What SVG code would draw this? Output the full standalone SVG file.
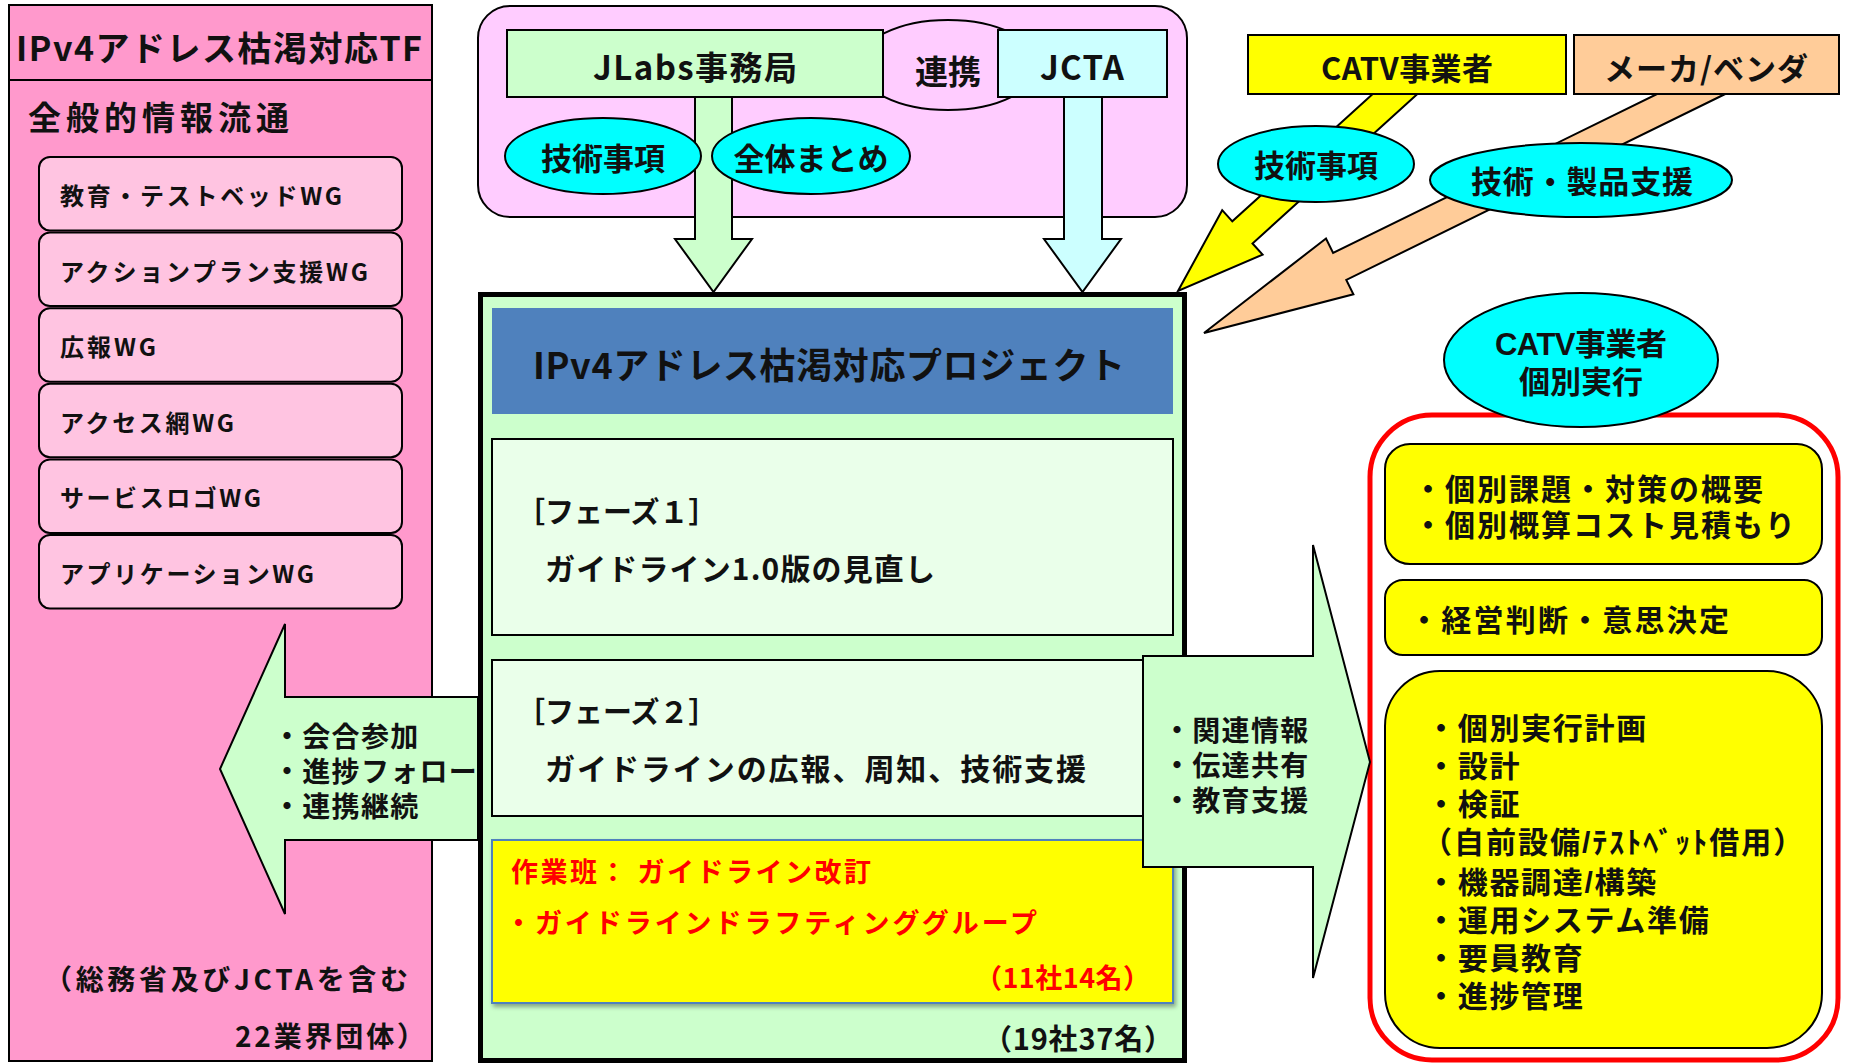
<svg xmlns="http://www.w3.org/2000/svg" width="1849" height="1064" viewBox="0 0 1849 1064">
<defs>
<style>
.t{font-family:"Noto Sans CJK JP","Noto Sans",sans-serif;font-weight:700;fill:#111}
.m{font-family:"Liberation Sans","Noto Sans CJK JP",sans-serif}
.c{text-anchor:middle}
.s{stroke:#000;stroke-width:2}
.r{fill:#FF0000}
.wg{fill:#FFC4E1;stroke:#000;stroke-width:2}
.el{fill:#00FFFF;stroke:#000;stroke-width:2}
</style>
<filter id="sh" x="-5%" y="-5%" width="110%" height="120%">
<feDropShadow dx="2" dy="3" stdDeviation="2" flood-color="#000" flood-opacity="0.35"/>
</filter>
</defs>
<rect width="1849" height="1064" fill="#fff"/>

<g id="tf">
<rect x="9" y="5" width="423" height="1056" fill="#FF99CC" class="s"/>
<line x1="9" y1="80" x2="432" y2="80" class="s"/>
<text class="t" x="16" y="61" font-size="34" textLength="406" lengthAdjust="spacing">IPv4アドレス枯渇対応TF</text>
<text class="t" x="28" y="130" font-size="33" textLength="261" lengthAdjust="spacing">全般的情報流通</text>
<text class="t" x="44" y="990" font-size="28" textLength="364" lengthAdjust="spacing">（総務省及びJCTAを含む</text>
<text class="t" x="235" y="1047" font-size="28" textLength="190" lengthAdjust="spacing">22業界団体）</text>
</g>
<g id="wg1"><rect x="39" y="157" width="363" height="73.5" rx="11" class="wg"/><text class="t" x="60" y="205" font-size="24" textLength="282" lengthAdjust="spacing">教育・テストベッドWG</text></g>
<g id="wg2"><rect x="39" y="232.6" width="363" height="73.5" rx="11" class="wg"/><text class="t" x="60" y="280.6" font-size="24" textLength="308" lengthAdjust="spacing">アクションプラン支援WG</text></g>
<g id="wg3"><rect x="39" y="308.2" width="363" height="73.5" rx="11" class="wg"/><text class="t" x="60" y="356.2" font-size="24" textLength="96" lengthAdjust="spacing">広報WG</text></g>
<g id="wg4"><rect x="39" y="383.8" width="363" height="73.5" rx="11" class="wg"/><text class="t" x="60" y="431.8" font-size="24" textLength="174" lengthAdjust="spacing">アクセス網WG</text></g>
<g id="wg5"><rect x="39" y="459.4" width="363" height="73.5" rx="11" class="wg"/><text class="t" x="60" y="507.4" font-size="24" textLength="201" lengthAdjust="spacing">サービスロゴWG</text></g>
<g id="wg6"><rect x="39" y="535" width="363" height="73.5" rx="11" class="wg"/><text class="t" x="60" y="583" font-size="24" textLength="254" lengthAdjust="spacing">アプリケーションWG</text></g>

<g id="top-group">
<rect x="478" y="6" width="709" height="211" rx="32" fill="#FFCCFF" class="s"/>
<ellipse cx="948" cy="65" rx="90" ry="45" fill="#FFCCFF" class="s"/>
<text class="t c" x="948" y="84" font-size="33">連携</text>
</g>
<g id="jlabs">
<rect x="507" y="30" width="376" height="67" fill="#CCFFCC" class="s"/>
<text class="t c" x="695" y="80" font-size="33" textLength="204" lengthAdjust="spacing">JLabs事務局</text>
</g>
<g id="jcta">
<rect x="998" y="30" width="169" height="67" fill="#CCFFFF" class="s"/>
<text class="t c" x="1082" y="80" font-size="33" textLength="84" lengthAdjust="spacing">JCTA</text>
</g>

<g id="project">
<rect x="480.5" y="294.5" width="704" height="766" fill="#CCFFCC" stroke="#000" stroke-width="5"/>
<rect x="492" y="308" width="681" height="106" fill="#4F81BD"/>
<text class="t" x="533" y="379" font-size="36" textLength="592" lengthAdjust="spacing">IPv4アドレス枯渇対応プロジェクト</text>
</g>
<g id="phase1">
<rect x="492" y="439" width="681" height="196" fill="#EAFFEA" class="s"/>
<text class="t" x="516" y="523" font-size="29">［フェーズ１］</text>
<text class="t" x="545" y="580" font-size="30" textLength="390" lengthAdjust="spacing">ガイドライン1.0版の見直し</text>
</g>
<g id="phase2">
<rect x="492" y="660" width="681" height="156" fill="#EAFFEA" class="s"/>
<text class="t" x="516" y="723" font-size="29">［フェーズ２］</text>
<text class="t" x="545" y="780" font-size="30" textLength="541" lengthAdjust="spacing">ガイドラインの広報、周知、技術支援</text>
</g>
<g id="workgroup">
<rect x="492" y="840" width="681" height="163" fill="#FFFF00" stroke="#4F81BD" stroke-width="2" filter="url(#sh)"/>
<text class="t r" x="511" y="882" font-size="27" textLength="360" lengthAdjust="spacing">作業班： ガイドライン改訂</text>
<text class="t r" x="505" y="933" font-size="27" textLength="532" lengthAdjust="spacing">・ガイドラインドラフティンググループ</text>
<text class="t r" x="975" y="988" font-size="27" textLength="175" lengthAdjust="spacing">（11社14名）</text>
</g>
<text class="t" x="983" y="1050" font-size="29" textLength="190" lengthAdjust="spacing">（19社37名）</text>

<g id="individual">
<rect x="1370" y="415" width="468" height="645" rx="62" fill="#fff" stroke="#FF0000" stroke-width="5"/>
<rect x="1385" y="444" width="437" height="120" rx="25" fill="#FFFF00" class="s"/>
<text class="t m" x="1413" y="500" font-size="30" textLength="350" lengthAdjust="spacing">・個別課題・対策の概要</text>
<text class="t m" x="1413" y="536" font-size="30" textLength="382" lengthAdjust="spacing">・個別概算コスト見積もり</text>
<rect x="1385" y="580" width="437" height="75" rx="18" fill="#FFFF00" class="s"/>
<text class="t m" x="1409" y="631" font-size="30" textLength="320" lengthAdjust="spacing">・経営判断・意思決定</text>
<rect x="1385" y="671" width="437" height="377" rx="55" fill="#FFFF00" class="s"/>
<g font-size="30" letter-spacing="1.7">
<text class="t m" x="1426" y="739">・個別実行計画</text>
<text class="t m" x="1426" y="777">・設計</text>
<text class="t m" x="1426" y="815">・検証</text>
<text class="t m" x="1422" y="853" textLength="383" lengthAdjust="spacing">（自前設備/ﾃｽﾄﾍﾞｯﾄ借用）</text>
<text class="t m" x="1426" y="893">・機器調達/構築</text>
<text class="t m" x="1426" y="931">・運用システム準備</text>
<text class="t m" x="1426" y="969">・要員教育</text>
<text class="t m" x="1426" y="1007">・進捗管理</text>
</g>
</g>

<g id="connectors">
<polygon points="695,97 732,97 732,239 752,239 713.5,292 675,239 695,239" fill="#CCFFCC" class="s"/>
<polygon points="1064,97 1102,97 1102,239 1121,239 1082.5,292 1044,239 1064,239" fill="#CCFFFF" class="s"/>
<polygon points="478,697 285,697 285,624 220,769 285,914 285,840 478,840" fill="#CCFFCC" class="s"/>
<polygon points="1143,656 1313,656 1313,545 1370,762 1313,978 1313,867 1143,867" fill="#CCFFCC" class="s"/>
<polygon points="1372.7,94 1417.4,94 1252.5,243.5 1262.6,254.6 1178,291 1222.2,210.2 1232.3,221.3" fill="#FFFF00" class="s"/>
<polygon points="1657,94 1725.2,94 1346.3,279.9 1353.4,294.3 1204,333 1326,238.5 1333.1,252.9" fill="#FFCC99" class="s"/>
<g font-size="28" letter-spacing="1.3">
<text class="t m" x="273" y="747">・会合参加</text>
<text class="t m" x="273" y="782">・進捗フォロー</text>
<text class="t m" x="273" y="817">・連携継続</text>
<text class="t m" x="1163" y="741">・関連情報</text>
<text class="t m" x="1163" y="776">・伝達共有</text>
<text class="t m" x="1163" y="811">・教育支援</text>
</g>
</g>

<g id="label-tech1"><ellipse cx="603" cy="156" rx="98" ry="38" class="el"/><text class="t c" x="603" y="170" font-size="31">技術事項</text></g>
<g id="label-summary"><ellipse cx="811" cy="156" rx="99" ry="38" class="el"/><text class="t c" x="811" y="170" font-size="31">全体まとめ</text></g>

<g id="catv">
<rect x="1248" y="35" width="318" height="59" fill="#FFFF00" class="s"/>
<text class="t c" x="1407" y="80" font-size="31" textLength="172" lengthAdjust="spacing">CATV事業者</text>
</g>
<g id="maker">
<rect x="1574" y="35" width="265" height="59" fill="#FFCC99" class="s"/>
<text class="t c" x="1706" y="80" font-size="31" textLength="204" lengthAdjust="spacing">メーカ/ベンダ</text>
</g>
<g id="label-tech2"><ellipse cx="1316" cy="164" rx="98" ry="38" class="el"/><text class="t c" x="1316" y="177" font-size="31">技術事項</text></g>
<g id="label-support"><ellipse cx="1581" cy="180" rx="151" ry="37" class="el"/><text class="t c" x="1582" y="193" font-size="31" textLength="222" lengthAdjust="spacing">技術・製品支援</text></g>
<g id="catv-individual"><ellipse cx="1581" cy="360" rx="137" ry="67" class="el"/>
<text class="t c m" x="1581" y="355" font-size="31" textLength="172" lengthAdjust="spacing">CATV事業者</text>
<text class="t c m" x="1581" y="393" font-size="31">個別実行</text></g>
</svg>
